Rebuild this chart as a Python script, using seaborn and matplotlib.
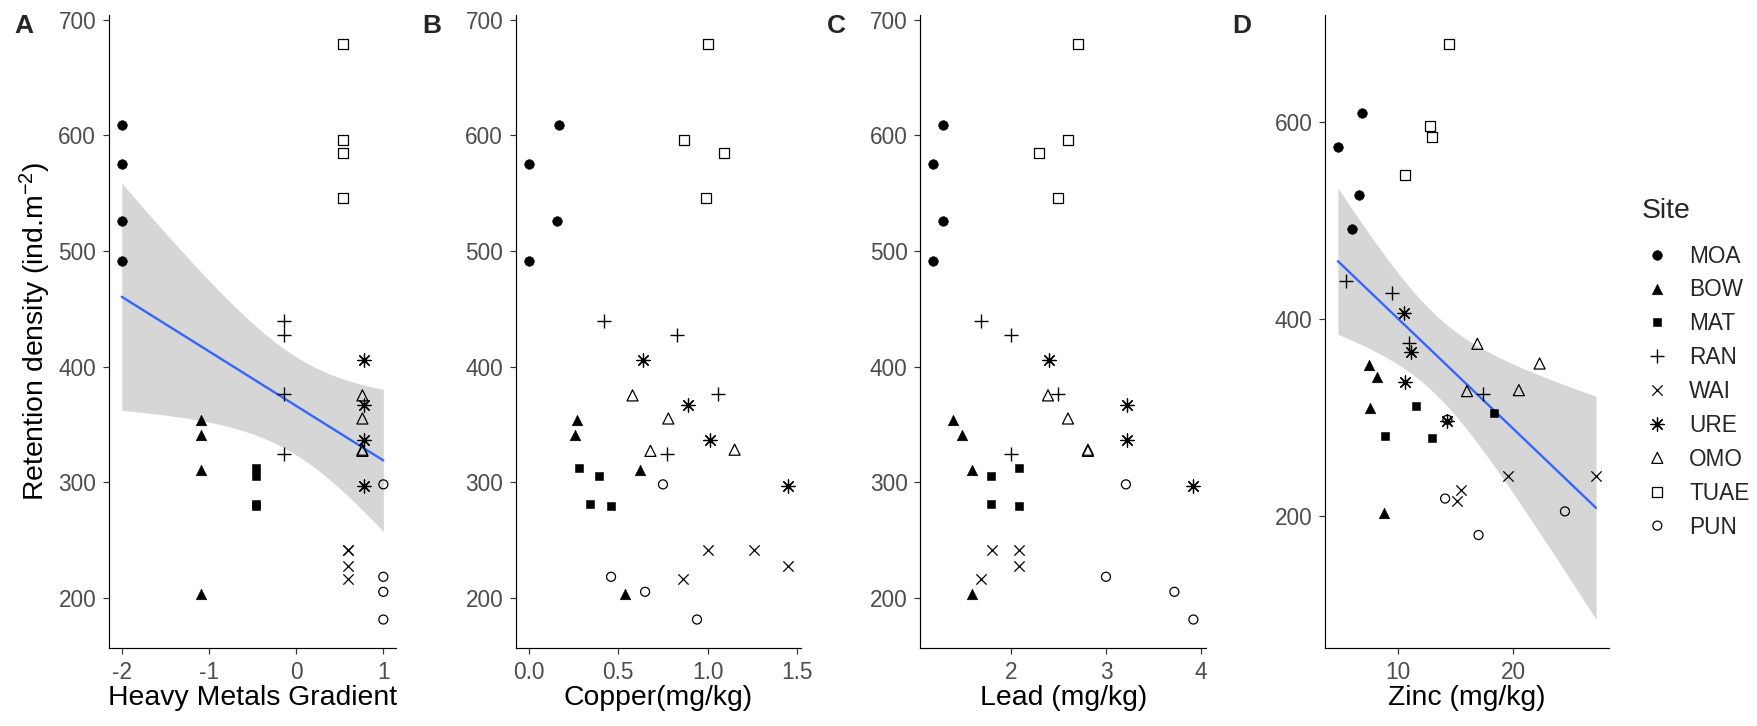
import numpy as np
import pandas as pd
import matplotlib
matplotlib.use("Agg")
import matplotlib.pyplot as plt
import seaborn as sns
from matplotlib.ticker import MultipleLocator, FormatStrFormatter

# ---------------- data ----------------
sites = ["MOA", "BOW", "MAT", "RAN", "WAI", "URE", "OMO", "TUAE", "PUN"]
site = ["MOA"] * 4 + ["BOW"] * 4 + ["MAT"] * 4 + ["RAN"] * 4 + ["WAI"] * 4 + \
       ["URE"] * 4 + ["OMO"] * 4 + ["TUAE"] * 4 + ["PUN"] * 4
density = [609, 575, 526, 491,
           354, 341, 310, 203,
           312, 305, 281, 279,
           439, 427, 376, 324,
           241, 241, 227, 216,
           406, 367, 336, 297,
           375, 355, 327, 328,
           679, 596, 585, 546,
           298, 218, 205, 181]
gradient = [-2.0, -2.0, -2.0, -2.0,
            -1.09, -1.09, -1.09, -1.09,
            -0.46, -0.46, -0.46, -0.46,
            -0.14, -0.14, -0.14, -0.14,
            0.60, 0.60, 0.60, 0.60,
            0.78, 0.78, 0.78, 0.78,
            0.76, 0.76, 0.76, 0.76,
            0.54, 0.54, 0.54, 0.54,
            1.0, 1.0, 1.0, 1.0]
copper = [0.17, 0.0, 0.16, 0.0,
          0.27, 0.26, 0.62, 0.54,
          0.28, 0.39, 0.34, 0.46,
          0.42, 0.83, 1.06, 0.77,
          1.0, 1.26, 1.45, 0.86,
          0.64, 0.89, 1.01, 1.45,
          0.58, 0.78, 0.68, 1.15,
          1.0, 0.87, 1.09, 0.99,
          0.75, 0.46, 0.65, 0.94]
lead = [1.28, 1.18, 1.28, 1.18,
        1.39, 1.49, 1.59, 1.59,
        2.08, 1.79, 1.79, 2.08,
        1.69, 2.0, 2.5, 2.0,
        1.8, 2.09, 2.09, 1.69,
        2.4, 3.22, 3.22, 3.92,
        2.39, 2.6, 2.81, 2.81,
        2.71, 2.6, 2.3, 2.5,
        3.21, 3.0, 3.72, 3.92]
zinc = [6.9, 4.8, 6.6, 6.0,
        7.5, 8.2, 7.6, 8.8,
        11.6, 18.3, 8.9, 13.0,
        5.5, 9.5, 11.0, 17.4,
        19.6, 27.2, 15.5, 15.1,
        10.5, 11.1, 10.6, 14.3,
        16.9, 22.3, 16.0, 20.5,
        14.4, 12.75, 13.0, 10.6,
        14.3, 14.1, 24.5, 17.0]

df = pd.DataFrame({"Site": site, "density": density, "gradient": gradient,
                   "copper": copper, "lead": lead, "zinc": zinc})

# ---------------- style ----------------
sns.set_style("ticks")
plt.rcParams["font.family"] = ["Liberation Sans", "DejaVu Sans"]
plt.rcParams["axes.unicode_minus"] = False
plt.rcParams["mathtext.fontset"] = "custom"
plt.rcParams["mathtext.rm"] = "Liberation Sans"
plt.rcParams["mathtext.default"] = "regular"

TICK_FS = 16.3
TITLE_FS = 20.4
TICK_COL = "#4D4D4D"
T_975_34 = 2.032  # t quantile for a 95% interval with 34 d.f. (n = 36)

# marker styles per site: (marker, size, kind, linewidth)
style = {
    "MOA": ("o", 48, "filled", 0.4),
    "BOW": ("^", 58, "filled", 0.4),
    "MAT": ("s", 38, "filled", 0.4),
    "RAN": ("+", 95, "line", 1.0),
    "WAI": ("x", 55, "line", 0.9),
    "URE": ((8, 2, 0), 90, "line", 0.9),
    "OMO": ("^", 63, "open", 0.9),
    "TUAE": ("s", 52, "open", 0.9),
    "PUN": ("o", 42, "open", 0.9),
}


def lm_band(ax, x, y):
    """Analytic 95% confidence band of a linear fit (as geom_smooth(method='lm'))."""
    x = np.asarray(x, float)
    y = np.asarray(y, float)
    n = len(x)
    b1, b0 = np.polyfit(x, y, 1)
    resid = y - (b0 + b1 * x)
    s = np.sqrt(np.sum(resid ** 2) / (n - 2))
    sxx = np.sum((x - x.mean()) ** 2)
    grid = np.linspace(x.min(), x.max(), 100)
    fit = b0 + b1 * grid
    se = s * np.sqrt(1.0 / n + (grid - x.mean()) ** 2 / sxx)
    ax.fill_between(grid, fit - T_975_34 * se, fit + T_975_34 * se,
                    color="#D6D6D6", lw=0, zorder=1)


W, H = 1758, 726
fig = plt.figure(figsize=(W / 100, H / 100), dpi=100)
top_px, bot_px = 15.4, 648.3
panels = [
    ("gradient", "Heavy Metals Gradient", 108.7, 287.7, True, "A", 24),
    ("copper", "Copper(mg/kg)", 515.7, 285.6, False, "B", 431.7),
    ("lead", "Lead (mg/kg)", 920.0, 286.4, False, "C", 836),
    ("zinc", "Zinc (mg/kg)", 1325.0, 284.0, True, "D", 1241.7),
]

axes = []
for col, xlabel, left, width, fit, letter, lx in panels:
    ax = fig.add_axes([left / W, 1 - bot_px / H, width / W, (bot_px - top_px) / H])
    axes.append(ax)
    if fit:
        lm_band(ax, df[col], df["density"])
        sns.regplot(data=df, x=col, y="density", ax=ax, scatter=False, ci=None,
                    truncate=True, color="#3366FF",
                    line_kws={"lw": 1.7, "zorder": 2})
    for s in sites:
        sub = df[df["Site"] == s]
        m, sz, kind, lw = style[s]
        if kind == "filled":
            sns.scatterplot(x=sub[col].values, y=sub["density"].values, ax=ax,
                            marker=m, s=sz, color="black", edgecolor="black",
                            linewidth=lw, label=s, legend=False, zorder=3)
        elif kind == "open":
            sns.scatterplot(x=sub[col].values, y=sub["density"].values, ax=ax,
                            marker=m, s=sz, color="black", facecolor="none",
                            edgecolor="black", linewidth=lw, label=s,
                            legend=False, zorder=3)
        else:
            sns.scatterplot(x=sub[col].values, y=sub["density"].values, ax=ax,
                            marker=m, s=sz, color="black", linewidth=lw,
                            label=s, legend=False, zorder=3)
    sns.despine(ax=ax)
    for sp in ("left", "bottom"):
        ax.spines[sp].set_linewidth(0.85)
        ax.spines[sp].set_color("black")
    ax.tick_params(axis="both", length=4.5, width=0.85, color="#333333",
                   labelsize=TICK_FS, labelcolor=TICK_COL, pad=4.5)
    ax.set_xlabel(xlabel, fontsize=TITLE_FS, color="black", labelpad=1)
    ax.set_ylabel("")
    ax.grid(False)
    ax.set_facecolor("white")
    fig.text(lx / W, 1 - 26 / H, letter, fontsize=19, fontweight="bold",
             ha="center", va="center")

axA, axB, axC, axD = axes
axA.set_ylabel("Retention density (ind.m$^{\\mathregular{-2}}$)",
               fontsize=TITLE_FS, color="black", labelpad=4)
for ax in (axA, axB, axC):
    ax.yaxis.set_major_locator(MultipleLocator(100))
axD.yaxis.set_major_locator(MultipleLocator(200))
axA.xaxis.set_major_locator(MultipleLocator(1))
axB.xaxis.set_major_locator(MultipleLocator(0.5))
axB.xaxis.set_major_formatter(FormatStrFormatter("%.1f"))
axC.xaxis.set_major_locator(MultipleLocator(1))
axD.xaxis.set_major_locator(MultipleLocator(10))

handles, labels = axD.get_legend_handles_labels()
fig.text(1642 / W, 1 - 211 / H, "Site", fontsize=TITLE_FS, ha="left",
         va="center")
leg = fig.legend(handles, labels, loc="upper left",
                 bbox_to_anchor=(1646 / W, 1 - 244.6 / H), frameon=False,
                 fontsize=TICK_FS, borderpad=0, borderaxespad=0,
                 handlelength=1.0, handletextpad=0.9, labelspacing=0.48,
                 scatterpoints=1, scatteryoffsets=[0.5])

fig.savefig("out.png", dpi=100, facecolor="white")
